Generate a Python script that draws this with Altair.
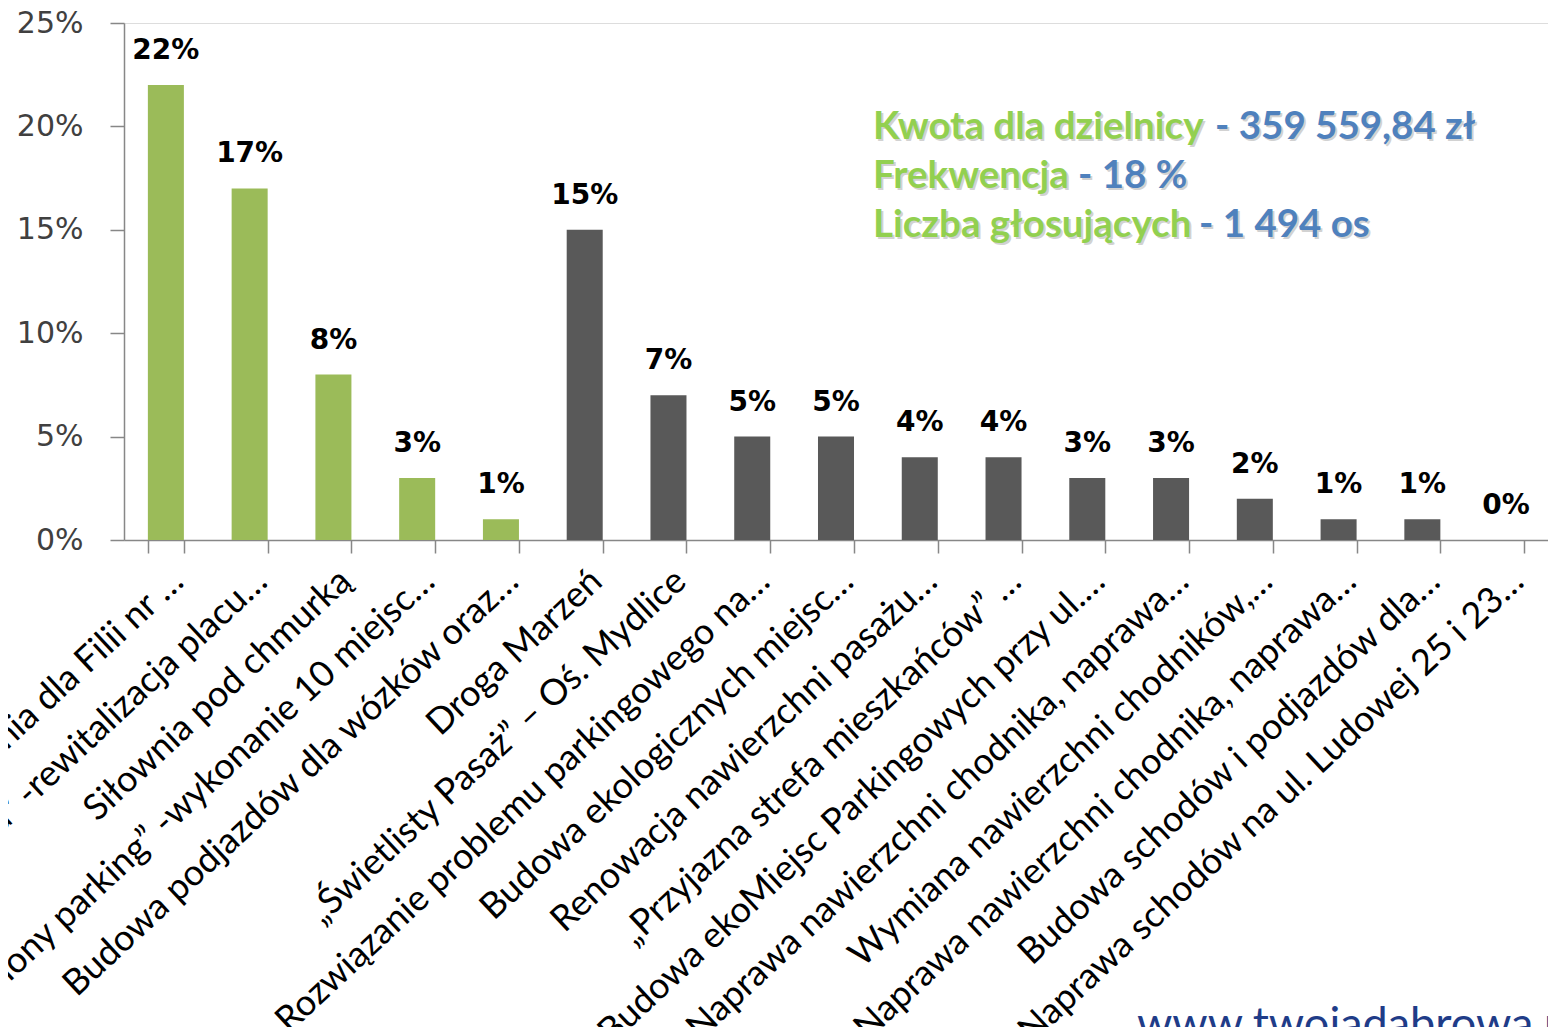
import json
import altair as alt
import pandas as pd

# ---- data ----
labels = [
    "enia dla Filii nr …",
    "a” -rewitalizacja placu…",
    "Siłownia pod chmurką",
    "elony parking” -wykonanie 10 miejsc…",
    "Budowa podjazdów dla wózków oraz…",
    "Droga Marzeń",
    "„Świetlisty Pasaż” – Oś. Mydlice",
    "Rozwiązanie problemu parkingowego na…",
    "Budowa ekologicznych miejsc…",
    "Renowacja nawierzchni pasażu…",
    "„Przyjazna strefa mieszkańców” …",
    "Budowa ekoMiejsc Parkingowych przy ul.…",
    "Naprawa nawierzchni chodnika, naprawa…",
    "Wymiana nawierzchni chodników,…",
    "Naprawa nawierzchni chodnika, naprawa…",
    "Budowa schodów i podjazdów dla…",
    "Naprawa schodów na ul. Ludowej 25 i 23…",
]
values = [22, 17, 8, 3, 1, 15, 7, 5, 5, 4, 4, 3, 3, 2, 1, 1, 0]
groups = ["wybrane"] * 5 + ["pozostałe"] * 12
y_ticks = [0, 5, 10, 15, 20, 25]

info_green = ["Kwota dla dzielnicy", "Frekwencja", "Liczba głosujących"]
info_blue = ["- 359 559,84 zł", "- 18 %", "- 1 494 os"]
site = "www.twojadabrowa.pl"

# ---- layout (pixels, plot-area coordinates) ----
PLOT_W, PLOT_H = 1424, 517
green_x = 749
blue_x = [1091, 954, 1075]
line_y = [116, 165, 214]
INFO_SIZE = 38.5

df = pd.DataFrame({
    "idx": list(range(len(labels))),
    "value": values,
    "group": groups,
    "txt": [f"{v}%" for v in values],
})

label_expr = json.dumps(labels, ensure_ascii=False) + "[datum.value]"
AX = "#878787"

x_enc = alt.X(
    "idx:O",
    sort=None,
    scale=alt.Scale(paddingInner=0.57, paddingOuter=0.285),
    axis=alt.Axis(
        title=None,
        labelExpr=label_expr,
        labelAngle=-43,
        labelAlign="right",
        labelBaseline="top",
        labelFont="Lato",
        labelFontSize=36,
        labelColor="#000000",
        labelPadding=10,
        labelLimit=3000,
        labelOverlap=False,
        tickBand="extent",
        tickSize=13,
        tickColor=AX,
        tickWidth=1.5,
        domainColor=AX,
        domainWidth=1.5,
    ),
)
y_enc = alt.Y(
    "value:Q",
    scale=alt.Scale(domain=[0, 25], nice=False),
    axis=alt.Axis(
        title=None,
        values=y_ticks,
        labelExpr="datum.value + '%'",
        grid=False,
        tickSize=14,
        tickColor=AX,
        tickWidth=1.5,
        domainColor=AX,
        domainWidth=1.5,
        labelPadding=27,
        labelFont="DejaVu Sans",
        labelFontSize=30,
        labelColor="#404040",
    ),
)

base = alt.Chart(df).encode(x=x_enc, y=y_enc)

bars = base.mark_bar(strokeWidth=0).encode(
    color=alt.Color("group:N", scale=alt.Scale(domain=["wybrane", "pozostałe"],
                                               range=["#9bbb59", "#595959"]), legend=None),
)

bar_text = base.mark_text(
    font="DejaVu Sans", fontWeight="bold", fontSize=28,
    baseline="alphabetic", dy=-26, color="#000000",
).encode(text="txt:N")


def ann(text, x, y, color, size, weight="bold", font="Lato", dx=0, dy=0, opacity=1.0):
    return alt.Chart(pd.DataFrame({"t": [text]})).mark_text(
        align="left", baseline="alphabetic", font=font, fontSize=size,
        fontWeight=weight, color=color, dx=dx, dy=dy, opacity=opacity,
    ).encode(x=alt.value(x), y=alt.value(y), text="t:N")


layers = [bars, bar_text]
for i in range(3):
    layers.append(ann(info_green[i], green_x, line_y[i], "#7f7f7f", INFO_SIZE, dx=2, dy=2, opacity=0.35))
    layers.append(ann(info_blue[i], blue_x[i], line_y[i], "#7f7f7f", INFO_SIZE, dx=2, dy=2, opacity=0.35))
for i in range(3):
    layers.append(ann(info_green[i], green_x, line_y[i], "#92d050", INFO_SIZE))
    layers.append(ann(info_blue[i], blue_x[i], line_y[i], "#4f81bd", INFO_SIZE))
layers.append(ann(site, 1013, 1016, "#1f3c88", 45, weight="normal"))

chart = alt.layer(*layers).properties(
    width=PLOT_W,
    height=PLOT_H,
    autosize=alt.AutoSizeParams(type="none"),
    padding={"left": 116, "top": 15, "right": 0, "bottom": 487},
).configure_view(stroke=None).configure(background="white")

chart.save("out.html", embed_options={"renderer": "svg", "actions": False})
